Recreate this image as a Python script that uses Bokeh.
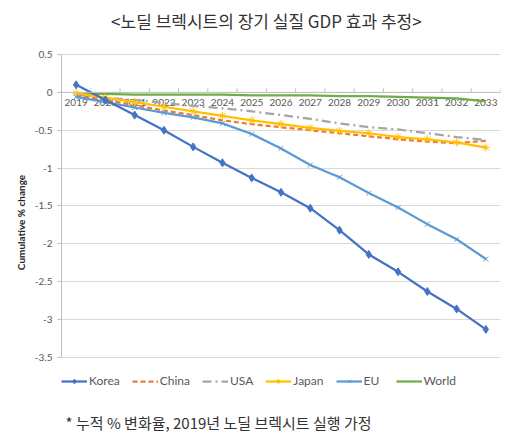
from bokeh.plotting import figure
from bokeh.models import Range1d, FixedTicker, Legend, LegendItem, Span, Label
from bokeh.core.properties import value
from bokeh.embed import file_html
from bokeh.resources import INLINE

years = [str(y) for y in range(2019, 2034)]
korea = [0.10, -0.10, -0.30, -0.50, -0.72, -0.93, -1.13, -1.32, -1.53, -1.82, -2.14, -2.37, -2.63, -2.86, -3.13]
china = [-0.04, -0.10, -0.17, -0.24, -0.30, -0.37, -0.42, -0.46, -0.50, -0.54, -0.58, -0.62, -0.65, -0.67, -0.64]
usa = [-0.03, -0.07, -0.10, -0.14, -0.18, -0.21, -0.25, -0.30, -0.35, -0.41, -0.46, -0.49, -0.54, -0.59, -0.63]
japan = [-0.01, -0.07, -0.13, -0.19, -0.25, -0.31, -0.37, -0.42, -0.47, -0.51, -0.54, -0.59, -0.62, -0.66, -0.73]
eu = [-0.06, -0.13, -0.20, -0.27, -0.33, -0.41, -0.55, -0.74, -0.96, -1.12, -1.33, -1.52, -1.74, -1.94, -2.20]
world = [-0.02, -0.02, -0.03, -0.03, -0.03, -0.03, -0.04, -0.04, -0.04, -0.05, -0.05, -0.06, -0.07, -0.08, -0.12]
y_ticks = [0.5, 0, -0.5, -1, -1.5, -2, -2.5, -3, -3.5]
y_tick_labels = ["0.5", "0", "-0.5", "-1", "-1.5", "-2", "-2.5", "-3", "-3.5"]

title_text = "<노딜 브렉시트의 장기 실질 GDP 효과 추정>"
note_text = "* 누적 % 변화율, 2019년 노딜 브렉시트 실행 가정"

idx = list(range(len(years)))
bounds = [i - 0.5 for i in range(len(years) + 1)]

FONT = "Lato"
KFONT = "Noto Sans CJK KR"
TXT = "#595959"

# frame spans the full canvas height; title, legend and note live inside it
p = figure(width=520, height=444, output_backend="svg", toolbar_location=None,
           x_range=Range1d(-0.5, 14.5), y_range=Range1d(-4.65, 1.213),
           x_axis_location=None, min_border_left=61, min_border_right=20,
           min_border_top=0, min_border_bottom=0)
p.outline_line_color = None
p.background_fill_color = "white"
p.border_fill_color = "white"

# y axis
ya = p.yaxis[0]
ya.ticker = FixedTicker(ticks=y_ticks)
ya.bounds = (-3.5, 0.5)
ya.major_label_overrides = {t: l for t, l in zip(y_ticks, y_tick_labels)}
ya.axis_label = "Cumulative % change"
ya.axis_label_text_font = FONT
ya.axis_label_text_font_style = "bold"
ya.axis_label_text_font_size = "10px"
ya.axis_label_text_color = "#262626"
ya.axis_label_standoff = 5
ya.major_label_text_font = FONT
ya.major_label_text_font_size = "10px"
ya.major_label_text_color = TXT
ya.major_tick_out = 4
ya.major_tick_in = 0
ya.minor_tick_out = 0
ya.minor_tick_in = 0
ya.axis_line_color = "#bfbfbf"
ya.major_tick_line_color = "#bfbfbf"

p.ygrid.ticker = FixedTicker(ticks=y_ticks)
p.ygrid.grid_line_color = "#d9d9d9"
p.xgrid.grid_line_color = None

# category axis drawn at y = 0
p.add_layout(Span(location=0, dimension="width", line_color="#bfbfbf", line_width=1))
tick_len = 4 / 75.75
p.segment(x0=bounds, y0=[0] * len(bounds), x1=bounds, y1=[tick_len] * len(bounds),
          line_color="#bfbfbf", line_width=1)
p.text(x=idx, y=[0] * len(idx), text=years, text_font=value(FONT), text_font_size="10px",
       text_color=TXT, text_align="center", text_baseline="top", y_offset=7)

r_world = p.line(idx, world, line_color="#70AD47", line_width=2.25)
r_usa = p.line(idx, usa, line_color="#A5A5A5", line_width=2.25, line_dash="9 4 2 4")
r_china = p.line(idx, china, line_color="#ED7D31", line_width=2.25, line_dash="5 3")
r_japan = p.line(idx, japan, line_color="#FFC000", line_width=2.25)
r_japan_m = p.scatter(idx, japan, marker="asterisk", size=8, line_color="#FFC000", line_width=1)
r_eu = p.line(idx, eu, line_color="#5B9BD5", line_width=2.25)
r_eu_m = p.scatter(idx, eu, marker="x", size=7, line_color="#5B9BD5", line_width=1)
r_korea = p.line(idx, korea, line_color="#4472C4", line_width=2.25)
r_korea_m = p.scatter(idx, korea, marker="diamond", size=8, fill_color="#4472C4", line_color="#4472C4")

legend = Legend(items=[
    LegendItem(label="Korea", renderers=[r_korea, r_korea_m]),
    LegendItem(label="China", renderers=[r_china]),
    LegendItem(label="USA", renderers=[r_usa]),
    LegendItem(label="Japan", renderers=[r_japan, r_japan_m]),
    LegendItem(label="EU", renderers=[r_eu, r_eu_m]),
    LegendItem(label="World", renderers=[r_world]),
], orientation="horizontal", location=(0, 56))
legend.label_text_font = FONT
legend.label_text_font_size = "12px"
legend.label_text_color = TXT
legend.glyph_width = 26
legend.glyph_height = 12
legend.label_standoff = 2
legend.spacing = 12
legend.padding = 4
legend.margin = 0
legend.border_line_color = None
legend.background_fill_alpha = 0
p.add_layout(legend)

p.add_layout(Label(x=-0.36, y=-4.36, text=note_text, text_font=KFONT,
                   text_font_size="15px", text_color="#333333", text_baseline="middle"))

p.add_layout(Label(x=6.5, y=0.95, text=title_text, text_font=KFONT,
                   text_font_size="17px", text_color="#333333",
                   text_align="center", text_baseline="middle"))

open("out.html", "w").write(file_html(p, INLINE))
